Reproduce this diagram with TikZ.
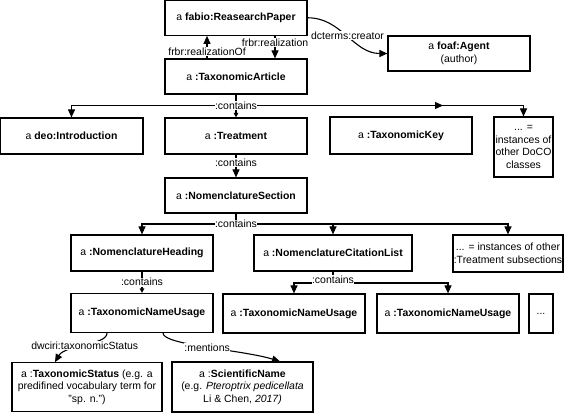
\documentclass[tikz,border=0pt]{standalone}
\usepackage{fontspec}
\setmainfont{Liberation Sans}
\usetikzlibrary{arrows.meta}

\begin{document}
\begin{tikzpicture}[x=1bp, y=1bp,
    box/.style={draw, line width=1.2bp, minimum width=142bp, minimum height=36bp,
      inner sep=1bp, align=center, font=\fontsize{10.5}{12.7}\selectfont},
    lbl/.style={fill=white, inner sep=0.4bp, font=\fontsize{10.5}{12}\selectfont},
    arr/.style={line width=1.1bp, -{Triangle[length=8bp,width=7bp]}},
    sarr/.style={line width=1.1bp, -{Triangle[length=4.5bp,width=4.5bp]}}]
      \useasboundingbox (0,0) rectangle (566,-412);

      \node[box, minimum height=35bp] (paper) at (236,-17.75) {a \textbf{fabio:ReasearchPaper}};
      \node[box, minimum height=35bp] (agent) at (459,-53.5) {a \textbf{foaf:Agent}\\(author)};
      \node[box, minimum height=35bp] (article) at (236,-76.5) {a \textbf{:TaxonomicArticle}};

      \node[box, minimum width=143bp] (intro) at (71.5,-136) {a \textbf{deo:Introduction}};
      \node[box] (treat) at (236,-136) {a \textbf{:Treatment}};
      \node[box, minimum height=37bp] (key) at (401,-135.5) {a \textbf{:TaxonomicKey}};
      \node[box, minimum width=59bp, minimum height=60bp] (doco) at (523.5,-147)
        {... =\\instances of\\other DoCO\\classes};

      \node[box, minimum height=35bp] (nomsec) at (236,-195.5) {a \textbf{:NomenclatureSection}};

      \node[box] (heading) at (142,-253) {a \textbf{:NomenclatureHeading}};
      \node[box, minimum width=158bp] (citlist) at (333,-253) {a \textbf{:NomenclatureCitationList}};
      \node[box, minimum width=110bp, minimum height=37bp, inner sep=0bp] (subsec) at (508,-253.5)
        {... = instances of other\\:Treatment subsections};

      \node[box, minimum height=39bp] (tnu1) at (142,-313) {a \textbf{:TaxonomicNameUsage}};
      \node[box, minimum height=39bp] (tnu2) at (294,-313.5) {a \textbf{:TaxonomicNameUsage}};
      \node[box, minimum height=39bp] (tnu3) at (448,-313.5) {a \textbf{:TaxonomicNameUsage}};
      \node[box, minimum width=24bp, minimum height=39bp] (more) at (541,-313.5) {...};

      \node[box, minimum width=150bp, minimum height=49bp] (status) at (87,-387.25)
        {a :\textbf{TaxonomicStatus} (e.g. a\\predifined vocabulary term for\\"sp. n.")};
      \node[box, minimum width=141bp, minimum height=50bp] (sci) at (242.5,-387)
        {a :\textbf{ScientificName}\\(e.g. \textit{Pteroptrix pedicellata}\\Li \& Chen, \textit{2017)}};

      % realization links
      \draw[arr] (article.north -| 207,0) -- node[lbl, pos=0.3] (lreal1) {frbr:realizationOf}
        (paper.south -| 207,0);
      \draw[arr] (paper.south -| 275,0) -- node[lbl, pos=0.3] (lreal2) {frbr:realization}
        (article.north -| 275,0);
      \draw[arr] (paper.east) to[out=0, in=180] node[lbl] (lcreator) {dcterms:creator} (agent.west);

      % article contains
      \coordinate (c1) at (236,-105.5);
      \coordinate (keyarr) at (443,-105.5);
      \draw[line width=1.1bp] (article.south) -- (c1);
      \draw[arr] (c1) -| (intro.north);
      \draw[arr] (c1) -| (doco.north);
      \draw[arr] (c1) -- (keyarr);
      \draw[sarr] (c1) -- (treat.north);
      \node[lbl] (lc1) at (c1) {:contains};

      \draw[arr] (treat) -- node[lbl, pos=0.35] (lc2) {:contains} (nomsec);

      % section contains
      \coordinate (c3) at (236,-224);
      \draw[line width=1.1bp] (nomsec.south) -- (c3);
      \draw[arr] (c3) -| (heading.north);
      \draw[arr] (c3) -| (citlist.north);
      \draw[arr] (c3) -| (subsec.north);
      \node[lbl] (lc3) at (c3) {:contains};

      \draw[sarr] (heading) -- node[lbl] (lc4) {:contains} (tnu1);

      \coordinate (c5) at (333,-283);
      \draw[line width=1.1bp] (citlist.south) -- (c5);
      \draw[arr] (c5) -| (tnu2.north);
      \draw[arr] (c5) -| (tnu3.north);
      \node[lbl, yshift=3.5bp] (lc5) at (c5) {:contains};

      % name usage links
      \draw[arr] (tnu1.south -| 107,0) to[out=-90, in=60, out distance=12bp, in distance=20bp]
        node[lbl] (lstatus) {dwciri:taxonomicStatus} (status.north -| 55,0);
      \draw[arr] (tnu1.south -| 163,0) to[out=-90, in=163, out distance=12bp, in distance=40bp]
        node[lbl] (lmention) {:mentions} (sci.north -| 280,0);
  \end{tikzpicture}
\end{document}
